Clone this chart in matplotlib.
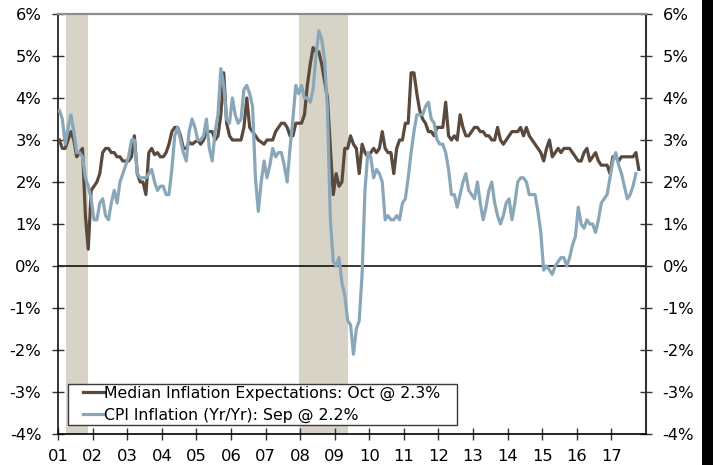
import numpy as np
import matplotlib
matplotlib.use("Agg")
import matplotlib.pyplot as plt
from matplotlib.patches import Rectangle
from matplotlib.lines import Line2D
from matplotlib.legend_handler import HandlerLine2D
from matplotlib.transforms import IdentityTransform

# ---------------- data ----------------
start_year = 2001

# Median inflation expectations (%), monthly Jan 2001 - Oct 2017
exp_2001 = [3.0, 2.8, 2.8, 3.0, 3.2, 3.0, 2.6, 2.7, 2.8, 1.2, 0.4, 1.8]
exp_2002 = [1.9, 2.0, 2.2, 2.7, 2.8, 2.8, 2.7, 2.7, 2.6, 2.6, 2.5, 2.5]
exp_2003 = [2.5, 2.6, 3.1, 2.2, 2.0, 2.0, 1.7, 2.7, 2.8, 2.65, 2.7, 2.6]
exp_2004 = [2.6, 2.7, 2.9, 3.2, 3.3, 3.3, 3.1, 2.8, 2.8, 2.95, 2.9, 2.95]
exp_2005 = [3.0, 2.9, 3.0, 3.2, 3.2, 3.2, 3.0, 3.1, 3.6, 4.6, 3.4, 3.1]
exp_2006 = [3.0, 3.0, 3.0, 3.0, 3.3, 4.0, 3.3, 3.2, 3.1, 3.0, 2.95, 2.9]
exp_2007 = [3.0, 3.0, 3.0, 3.2, 3.3, 3.4, 3.4, 3.3, 3.1, 3.1, 3.4, 3.4]
exp_2008 = [3.4, 3.6, 4.3, 4.8, 5.2, 5.1, 5.1, 4.8, 4.4, 4.0, 2.8, 1.7]
exp_2009 = [2.2, 1.9, 2.0, 2.8, 2.8, 3.1, 2.9, 2.8, 2.2, 2.9, 2.7, 2.6]
exp_2010 = [2.7, 2.8, 2.7, 2.8, 3.2, 2.8, 2.7, 2.7, 2.2, 2.8, 3.0, 3.0]
exp_2011 = [3.4, 3.4, 4.6, 4.6, 4.1, 3.7, 3.5, 3.4, 3.2, 3.2, 3.1, 3.3]
exp_2012 = [3.3, 3.3, 3.9, 3.1, 3.0, 3.1, 3.0, 3.6, 3.3, 3.1, 3.1, 3.2]
exp_2013 = [3.3, 3.3, 3.2, 3.2, 3.1, 3.1, 3.0, 3.0, 3.3, 3.0, 2.9, 3.0]
exp_2014 = [3.1, 3.2, 3.2, 3.2, 3.3, 3.1, 3.3, 3.1, 3.0, 2.9, 2.8, 2.7]
exp_2015 = [2.5, 2.8, 3.0, 2.6, 2.7, 2.8, 2.7, 2.8, 2.8, 2.8, 2.7, 2.6]
exp_2016 = [2.5, 2.5, 2.7, 2.8, 2.5, 2.6, 2.7, 2.5, 2.4, 2.4, 2.4, 2.2]
exp_2017 = [2.6, 2.6, 2.5, 2.6, 2.6, 2.6, 2.6, 2.6, 2.7, 2.3]

# CPI inflation (Yr/Yr, %), monthly Jan 2001 - Sep 2017
cpi_2001 = [3.7, 3.5, 2.9, 3.3, 3.6, 3.2, 2.7, 2.7, 2.6, 2.1, 1.9, 1.6]
cpi_2002 = [1.1, 1.1, 1.5, 1.6, 1.2, 1.1, 1.5, 1.8, 1.5, 2.0, 2.2, 2.4]
cpi_2003 = [2.6, 3.0, 3.0, 2.2, 2.1, 2.1, 2.1, 2.2, 2.3, 2.0, 1.8, 1.9]
cpi_2004 = [1.9, 1.7, 1.7, 2.3, 3.1, 3.3, 3.0, 2.7, 2.5, 3.2, 3.5, 3.3]
cpi_2005 = [3.0, 3.0, 3.1, 3.5, 2.8, 2.5, 3.2, 3.6, 4.7, 4.3, 3.5, 3.4]
cpi_2006 = [4.0, 3.6, 3.4, 3.5, 4.2, 4.3, 4.1, 3.8, 2.1, 1.3, 2.0, 2.5]
cpi_2007 = [2.1, 2.4, 2.8, 2.6, 2.7, 2.7, 2.4, 2.0, 2.8, 3.5, 4.3, 4.1]
cpi_2008 = [4.3, 4.0, 4.0, 3.9, 4.2, 5.0, 5.6, 5.4, 4.9, 3.7, 1.1, 0.1]
cpi_2009 = [0.0, 0.2, -0.4, -0.7, -1.3, -1.4, -2.1, -1.5, -1.3, -0.2, 1.8, 2.7]
cpi_2010 = [2.6, 2.1, 2.3, 2.2, 2.0, 1.1, 1.2, 1.1, 1.1, 1.2, 1.1, 1.5]
cpi_2011 = [1.6, 2.1, 2.7, 3.2, 3.6, 3.6, 3.6, 3.8, 3.9, 3.5, 3.4, 3.0]
cpi_2012 = [2.9, 2.9, 2.7, 2.3, 1.7, 1.7, 1.4, 1.7, 2.0, 2.2, 1.8, 1.7]
cpi_2013 = [1.6, 2.0, 1.5, 1.1, 1.4, 1.8, 2.0, 1.5, 1.2, 1.0, 1.2, 1.5]
cpi_2014 = [1.6, 1.1, 1.5, 2.0, 2.1, 2.1, 2.0, 1.7, 1.7, 1.7, 1.3, 0.8]
cpi_2015 = [-0.1, 0.0, -0.1, -0.2, 0.0, 0.1, 0.2, 0.2, 0.0, 0.2, 0.5, 0.7]
cpi_2016 = [1.4, 1.0, 0.9, 1.1, 1.0, 1.0, 0.8, 1.1, 1.5, 1.6, 1.7, 2.1]
cpi_2017 = [2.5, 2.7, 2.4, 2.2, 1.9, 1.6, 1.7, 1.9, 2.2]

# Recessions (decimal years)
recessions = [(2001.22, 2001.875), (2007.967, 2009.375)]

year_ticks = list(range(2001, 2018))
year_labels = [f"{y % 100:02d}" for y in year_ticks]
pct_ticks = list(range(-4, 7))
pct_labels = [f"{v}%" for v in pct_ticks]

legend_labels = ["Median Inflation Expectations: Oct @ 2.3%",
                 "CPI Inflation (Yr/Yr): Sep @ 2.2%"]

expectations = np.concatenate([exp_2001, exp_2002, exp_2003, exp_2004, exp_2005,
                               exp_2006, exp_2007, exp_2008, exp_2009, exp_2010,
                               exp_2011, exp_2012, exp_2013, exp_2014, exp_2015,
                               exp_2016, exp_2017])
cpi = np.concatenate([cpi_2001, cpi_2002, cpi_2003, cpi_2004, cpi_2005,
                      cpi_2006, cpi_2007, cpi_2008, cpi_2009, cpi_2010,
                      cpi_2011, cpi_2012, cpi_2013, cpi_2014, cpi_2015,
                      cpi_2016, cpi_2017])

x_exp = start_year + (np.arange(len(expectations)) + 0.5) / 12.0
x_cpi = start_year + (np.arange(len(cpi)) + 0.5) / 12.0

# ---------------- style ----------------
brown = "#5a4a3e"
blue = "#8aa7b9"
shade = "#d7d3c7"
plt.rcParams["font.family"] = ["DejaVu Sans"]

W, H = 713, 465
fig = plt.figure(figsize=(W / 100, H / 100), dpi=100)
fig.patch.set_facecolor("white")
ax = fig.add_axes([58 / W, 31 / H, 588 / W, 420 / H])

for a, b in recessions:
    ax.axvspan(a, b, color=shade, lw=0, zorder=0)

ax.axhline(0, color="black", lw=1.1, zorder=1)

ax.plot(x_exp, expectations, color=brown, lw=2.3, zorder=3,
        solid_joinstyle="round", label=legend_labels[0])
ax.plot(x_cpi, cpi, color=blue, lw=2.3, zorder=4,
        solid_joinstyle="round", label=legend_labels[1])

ax.set_xlim(2001, 2018)
ax.set_ylim(-4, 6)
ax.set_xticks(year_ticks)
ax.set_xticklabels(year_labels)
ax.set_yticks(pct_ticks)
ax.set_yticklabels(pct_labels)

ax.tick_params(axis="y", direction="inout", length=8, width=1, left=True,
               right=True, labelleft=True, labelright=True, labelsize=11.8,
               pad=8, color="#333333", labelcolor="black")
ax.tick_params(axis="x", direction="inout", length=8, width=1, labelsize=11.8,
               pad=7, color="#333333")

ax.spines["top"].set_color("#8c8c8c")
ax.spines["top"].set_linewidth(1.6)
ax.spines["left"].set_color("black")
ax.spines["left"].set_linewidth(1.1)
ax.spines["right"].set_color("#333333")
ax.spines["right"].set_linewidth(1.5)
ax.spines["bottom"].set_color("black")
ax.spines["bottom"].set_linewidth(1.2)


class GapLineHandler(HandlerLine2D):
    def create_artists(self, legend, orig_handle, xdescent, ydescent, width,
                       height, fontsize, trans):
        arts = super().create_artists(legend, orig_handle, xdescent, ydescent,
                                      width, height, fontsize, trans)
        for art in arts:
            xd = np.asarray(art.get_xdata(), float)
            if xd.size >= 2:
                hi = xd.max()
                span = hi - xd.min()
                art.set_xdata(np.linspace(hi - span * 0.60, hi, xd.size))
        return arts


leg = ax.legend(loc="lower left", bbox_to_anchor=(10 / 588, 9 / 420),
                borderaxespad=0, frameon=False, fontsize=11.3,
                handlelength=2.15, handletextpad=0.05, borderpad=0.12,
                labelspacing=0.45,
                handler_map={Line2D: GapLineHandler()})
leg.set_zorder(6)

fig.canvas.draw()
bb = leg.get_window_extent()
frame = Rectangle((bb.x0, bb.y0), bb.width + 14, bb.height,
                  transform=IdentityTransform(), facecolor="white",
                  edgecolor="#3a3a3a", lw=1.0, zorder=5, clip_on=False)
ax.add_artist(frame)

# dark band at right edge of the original image
fig.add_artist(Rectangle((702 / W, 0), 11 / W, 1, transform=fig.transFigure,
                         facecolor="black", edgecolor="none", zorder=10))

fig.savefig("out.png", dpi=100)
